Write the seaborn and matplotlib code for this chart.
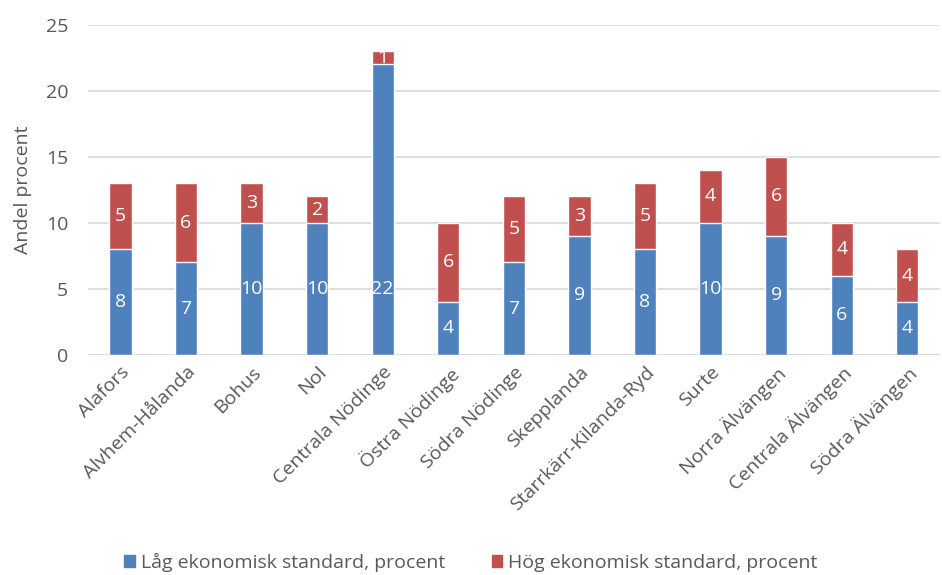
import pandas as pd
import seaborn as sns
import matplotlib
matplotlib.use('Agg')
import matplotlib.pyplot as plt
from matplotlib.patches import Patch

# Data
areas = ['Alafors', 'Alvhem-Hålanda', 'Bohus', 'Nol', 'Centrala Nödinge',
         'Östra Nödinge', 'Södra Nödinge', 'Skepplanda', 'Starrkärr-Kilanda-Ryd',
         'Surte', 'Norra Älvängen', 'Centrala Älvängen', 'Södra Älvängen']
low = [8, 7, 10, 10, 22, 4, 7, 9, 8, 10, 9, 6, 4]
high = [5, 6, 3, 2, 1, 6, 5, 3, 5, 4, 6, 4, 4]
low_label = 'Låg ekonomisk standard, procent'
high_label = 'Hög ekonomisk standard, procent'

blue = '#4F81BD'
red = '#C0504D'
grey = '#595959'

df = pd.DataFrame({'area': areas, 'low': low, 'high': high})
df['total'] = df['low'] + df['high']

sns.set_theme(style='white')
plt.rcParams['font.family'] = ['Open Sans', 'DejaVu Sans']

fig = plt.figure(figsize=(9.42, 5.75), dpi=100)
ax = fig.add_axes([0.093, 0.383, 0.905, 0.574])

# stacked: total in red, low in blue on top of it
sns.barplot(data=df, x='area', y='total', color=red, width=0.34,
            saturation=1, ax=ax, zorder=2)
sns.barplot(data=df, x='area', y='low', color=blue, width=0.34,
            saturation=1, ax=ax, zorder=3)

for i, (lo, hi) in enumerate(zip(low, high)):
    ax.text(i, min(lo / 2, 5), str(lo), ha='center', va='center',
            color='white', fontsize=14, zorder=4)
    ax.text(i, lo + hi / 2, str(hi), ha='center', va='center',
            color='white', fontsize=14, zorder=4)

ax.set_ylim(0, 25)
ax.set_xlim(-0.5, len(areas) - 0.5)
ax.set_yticks(range(0, 26, 5))
ax.yaxis.grid(True, color='#d9d9d9', linewidth=1.2, zorder=0)
ax.set_axisbelow(True)
for s in ax.spines.values():
    s.set_visible(False)
ax.axhline(0, color='#d9d9d9', linewidth=1.2, zorder=1)

ax.set_xlabel('')
ax.set_ylabel('Andel procent', fontsize=14, color=grey, labelpad=10)
ax.tick_params(axis='both', length=0, labelsize=14, colors=grey)
ax.tick_params(axis='y', pad=14)
ax.tick_params(axis='x', pad=6)
plt.setp(ax.get_xticklabels(), rotation=45, ha='right', rotation_mode='anchor')

handles = [Patch(color=blue, label=low_label), Patch(color=red, label=high_label)]
fig.legend(handles=handles, loc='lower center', bbox_to_anchor=(0.5, -0.025),
           ncol=2, frameon=False, fontsize=14, labelcolor=grey,
           handlelength=0.55, handleheight=0.55, handletextpad=0.3,
           columnspacing=2.4)

fig.savefig('out.png', dpi=100)
